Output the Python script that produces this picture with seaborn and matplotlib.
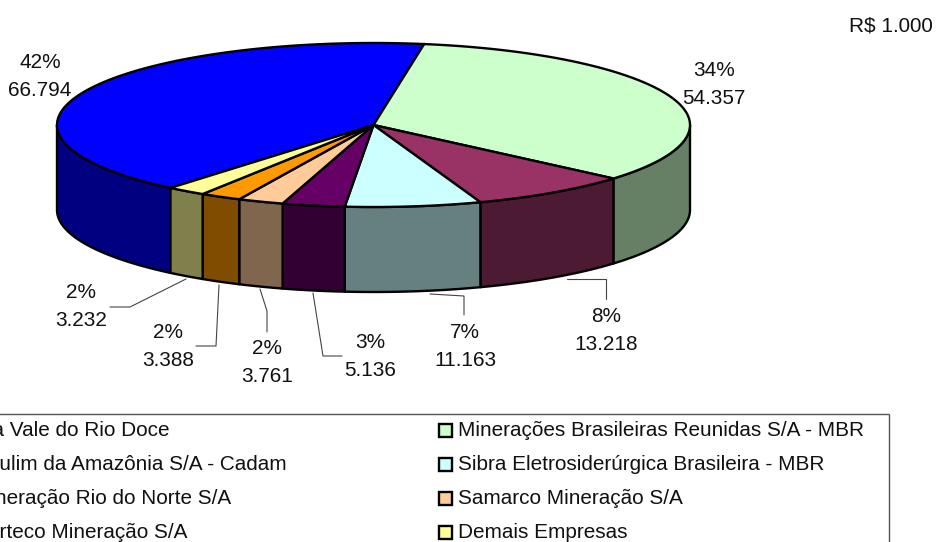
import numpy as np
import matplotlib
matplotlib.use("Agg")
import matplotlib.pyplot as plt
import seaborn as sns
from matplotlib.colors import to_rgb
from matplotlib.patches import Rectangle

empresas = ['Cia Vale do Rio Doce', 'Minerações Brasileiras Reunidas S/A - MBR',
            'Caulim da Amazônia S/A - Cadam', 'Sibra Eletrosiderúrgica Brasileira - MBR',
            'Mineração Rio do Norte S/A', 'Samarco Mineração S/A',
            'Norteco Mineração S/A', 'Demais Empresas']
valores = [66794, 54357, 13218, 11163, 5136, 3761, 3388, 3232]
percentuais = ['42%', '34%', '8%', '7%', '3%', '2%', '2%', '2%']
rotulos = ['66.794', '54.357', '13.218', '11.163', '5.136', '3.761', '3.388', '3.232']
cores_hex = ['#0000FF', '#CCFFCC', '#993366', '#CCFFFF', '#660066', '#FFCC99', '#FF9900', '#FFFF99']

sns.set_theme(style="white")
plt.rcParams['font.family'] = ['Liberation Sans', 'DejaVu Sans']
cores = sns.color_palette(cores_hex)

# pixel space, easier to line up with the picture
fig = plt.figure(figsize=(9.39, 5.42), dpi=100)
ax = fig.add_axes([0, 0, 1, 1])
ax.set_xlim(0, 939)
ax.set_ylim(542, 0)
ax.axis('off')

cx, cy, rx, ry, prof = 373.5, 125, 316.5, 82, 85
inicio = 230.1   # yellow/blue border, goes clockwise

def elipse(t):
    r = np.radians(t)
    return cx + rx * np.cos(r), cy - ry * np.sin(r)

graus = np.array(valores) / sum(valores) * 360
lim = inicio - np.concatenate([[0], np.cumsum(graus)])

# side walls first
for i in range(len(valores)):
    t = np.arange(lim[i], lim[i + 1], -0.25)
    t = np.append(t, lim[i + 1])
    t = t[np.sin(np.radians(t)) <= 1e-9]
    if len(t) == 0:
        continue
    x, y = elipse(t)
    parede = tuple(c * 0.5 for c in to_rgb(cores[i]))
    ax.fill(np.r_[x, x[::-1]], np.r_[y, y[::-1] + prof], fc=parede, ec='black', lw=1.7, joinstyle='round')

# top of the pie
for i in range(len(valores)):
    t = np.append(np.arange(lim[i], lim[i + 1], -0.25), lim[i + 1])
    x, y = elipse(t)
    ax.fill(np.r_[cx, x], np.r_[cy, y], fc=cores[i], ec='black', lw=1.7, joinstyle='round')

# labels: (x, y of the percent line)
pos_rotulo = [(40, 62), (714, 70), (606, 317), (465, 333), (370, 342), (267, 349), (168, 332), (81, 293)]
fs = 14.95
for (px, py), p, r in zip(pos_rotulo, percentuais, rotulos):
    ax.text(px, py, p, ha='center', va='center', fontsize=fs, color='#111111')
    ax.text(px, py + 28, r, ha='center', va='center', fontsize=fs, color='#111111')
ax.text(933, 26, 'R$ 1.000', ha='right', va='center', fontsize=fs, color='#111111')

# leader lines
lideres = [([430, 464, 464], [294, 296, 315]),
           ([567, 606, 606], [279, 279, 299]),
           ([186, 130, 110], [279, 307, 307]),
           ([219, 216, 196], [285, 346, 346]),
           ([260, 267, 267], [289, 311, 332]),
           ([313, 323, 342], [293, 356, 356])]
for lx, ly in lideres:
    ax.plot(lx, ly, color='#444444', lw=0.8)

# legend box runs off the left and bottom of the image
ax.add_patch(Rectangle((-10, 413.5), 899, 150, fc='none', ec='#555555', lw=1.0))
linhas = [431, 465, 499, 533]
for i, nome in enumerate(empresas):
    ly = linhas[i // 2]
    if i % 2 == 0:
        ax.text(-27, ly, nome, ha='left', va='center', fontsize=fs, color='#111111')
    else:
        ax.add_patch(Rectangle((438.5, ly - 7.5), 13.5, 13, fc=cores[i], ec='black', lw=1.7))
        ax.text(458, ly, nome, ha='left', va='center', fontsize=fs, color='#111111')

fig.savefig('out.png', dpi=100, facecolor='white')
